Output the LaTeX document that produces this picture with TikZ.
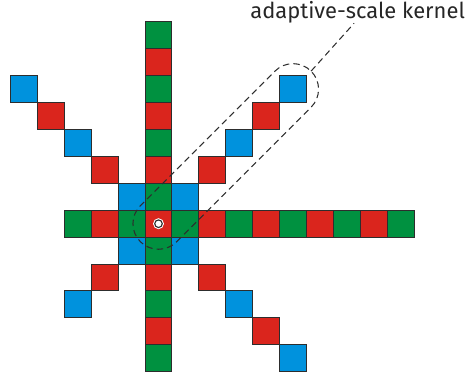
\documentclass[tikz,border=0pt]{standalone}
\usepackage{fontspec}
\setmainfont{Fira Sans}
\usetikzlibrary{calc}
\definecolor{cgreen}{RGB}{0,145,64}
\definecolor{cred}{RGB}{218,37,29}
\definecolor{cblue}{RGB}{0,146,221}
\definecolor{edgegray}{RGB}{45,45,45}
\begin{document}
\begin{tikzpicture}[x=0.5cm,y=0.5cm,
  cell/.style={draw=edgegray, line width=0.5pt},
  kernel/.style={draw=edgegray, line width=0.55pt, dash pattern=on 3.4pt off 2.2pt},
  label/.style={anchor=base west, inner sep=0pt, text=black!85, font=\fontsize{11.6}{13}\selectfont}]
\useasboundingbox (-5.892,-5.773) rectangle (11.468,8.316);

% vertical strip through the centre
\foreach \k in {-5,...,7}{
  \pgfmathtruncatemacro\p{mod(abs(\k),2)}
  \ifnum\p=0 \def\c{cred}\else\def\c{cgreen}\fi
  \filldraw[cell, fill=\c] (-0.5,\k-0.5) rectangle (0.5,\k+0.5);
}
% horizontal strip through the centre
\foreach \k in {-3,...,9}{
  \pgfmathtruncatemacro\p{mod(abs(\k),2)}
  \ifnum\p=0 \def\c{cred}\else\def\c{cgreen}\fi
  \filldraw[cell, fill=\c] (\k-0.5,-0.5) rectangle (\k+0.5,0.5);
}
% diagonal arms: blue at odd distance, red at even distance
\foreach \sx/\sy/\n in {-1/1/5, 1/1/5, -1/-1/3, 1/-1/5}{
  \foreach \d in {1,...,\n}{
    \pgfmathtruncatemacro\p{mod(\d,2)}
    \ifnum\p=1 \def\c{cblue}\else\def\c{cred}\fi
    \filldraw[cell, fill=\c] (\sx*\d-0.5,\sy*\d-0.5) rectangle (\sx*\d+0.5,\sy*\d+0.5);
  }
}

% centre pixel marker
\coordinate (ctr) at (0,0);
\fill[white] (ctr) circle[radius=2.9pt];
\filldraw[fill=white, draw=edgegray, line width=0.6pt] (ctr) circle[radius=2.0pt];

% adaptive-scale kernel outline along the upper-right diagonal
\def\r{0.95}
\coordinate (kend) at (5,5);
\draw[kernel] ($(ctr)+(-45:\r)$) -- ($(kend)+(-45:\r)$)
  arc[start angle=-45, end angle=135, radius=\r]
  -- ($(ctr)+(135:\r)$)
  arc[start angle=135, end angle=315, radius=\r] -- cycle;
\coordinate (kattach) at ($(kend)+(45:\r)$);

% label and leader
\node[label] (lbl) at (3.40,7.636) {adaptive-scale kernel};
\coordinate (ltail) at (7.27,7.45);
\draw[kernel] (kattach) -- (ltail);
\end{tikzpicture}
\end{document}
